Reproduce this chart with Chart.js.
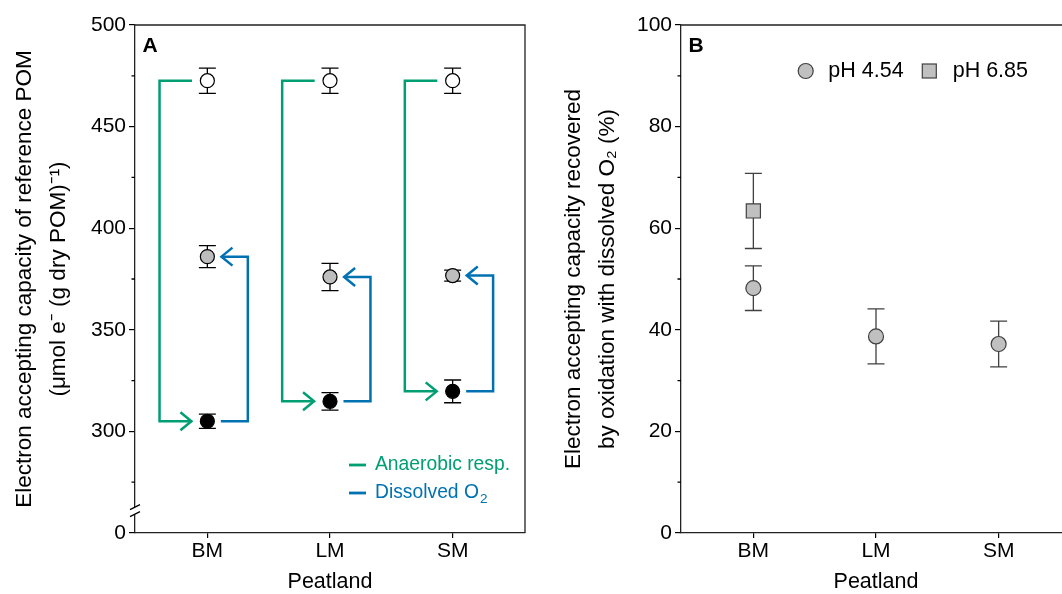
<!DOCTYPE html>
<html lang="en">
<head>
<meta charset="UTF-8">
<title>Electron accepting capacity of reference POM</title>
<script src="https://cdn.jsdelivr.net/npm/chart.js@4"></script>
<style>
  html, body { margin: 0; padding: 0; background: #fff; overflow: hidden; width: 1062px; height: 594px; }
  .panel { position: absolute; top: 0; width: 545px; height: 594px; }
  #panelA { left: 0; }
  #panelB { left: 546px; }
</style>
</head>
<body>
<div class="panel" id="panelA"><canvas id="chartA"></canvas></div>
<div class="panel" id="panelB"><canvas id="chartB"></canvas></div>

<script>
// values
const peatlands = ['BM', 'LM', 'SM'];

// panel A: EAC of reference POM, umol e- (g dry POM)-1
const eacNative = [472.6, 472.6, 472.6];
const eacNativeErr = [6.2, 6.2, 6.2];
const eacReoxidized = [386.0, 376.0, 376.7];
const eacReoxidizedErr = [5.4, 6.7, 2.7];
const eacReduced = [305.0, 314.8, 319.7];
const eacReducedErr = [3.5, 4.3, 5.6];
const yTicksA = [250, 300, 350, 400, 450, 500];
const yTickLabelsA = ['0', '300', '350', '400', '450', '500'];
const yMinorA = [275, 325, 375, 425, 475];

// panel B: EAC recovered by oxidation with dissolved O2 (%)
const recoveredPh454 = [48.2, 38.7, 37.2];
const recoveredPh454Err = [4.4, 5.4, 4.5];
const recoveredPh685 = [63.4, null, null];
const recoveredPh685Err = [7.4, null, null];
const yTicksB = [0, 20, 40, 60, 80, 100];
const yMinorB = [10, 30, 50, 70, 90];

const GREEN = '#009E73';
const BLUE = '#0072B2';
const FONT = '"Liberation Sans", Arial, Helvetica, sans-serif';
const X_MIN = -0.59, X_MAX = 2.59;

Chart.defaults.font.family = FONT;
Chart.defaults.color = '#000';

function toPoints(values) {
    return values.map((v, i) => ({x: i, y: v})).filter(p => p.y !== null);
}
function dropNulls(values) {
    return values.filter(v => v !== null);
}

// bracket paths, from category position and the measured values
function greenBracket(i) {
    return [
        {x: i - 0.125, y: eacNative[i]}, {x: i - 0.39, y: eacNative[i]},
        {x: i - 0.39, y: eacReduced[i]}, {x: i - 0.13, y: eacReduced[i]}
    ];
}
function blueBracket(i) {
    return [
        {x: i + 0.11, y: eacReduced[i]}, {x: i + 0.33, y: eacReduced[i]},
        {x: i + 0.33, y: eacReoxidized[i]}, {x: i + 0.115, y: eacReoxidized[i]}
    ];
}

const errorBars = {
    id: 'errorBars',
    beforeDatasetsDraw(chart) {
        const ctx = chart.ctx;
        const yScale = chart.scales.y;
        chart.data.datasets.forEach((ds, di) => {
            if (!ds.errors) return;
            const meta = chart.getDatasetMeta(di);
            ctx.save();
            ctx.strokeStyle = ds.errorColor;
            ctx.lineWidth = 1.3;
            meta.data.forEach((pt, j) => {
                const e = ds.errors[j];
                const v = ds.data[j].y;
                const x = pt.x;
                const y1 = yScale.getPixelForValue(v + e);
                const y2 = yScale.getPixelForValue(v - e);
                ctx.beginPath();
                ctx.moveTo(x, y1); ctx.lineTo(x, y2);
                ctx.moveTo(x - 8.5, y1); ctx.lineTo(x + 8.5, y1);
                ctx.moveTo(x - 8.5, y2); ctx.lineTo(x + 8.5, y2);
                ctx.stroke();
            });
            ctx.restore();
        });
    },
    afterDatasetsDraw(chart) {
        // arrow heads at the end of the bracket lines
        const ctx = chart.ctx;
        chart.data.datasets.forEach((ds, di) => {
            if (!ds.arrow) return;
            const pts = chart.getDatasetMeta(di).data;
            const tip = pts[pts.length - 1], prev = pts[pts.length - 2];
            const d = Math.sign(tip.x - prev.x);
            ctx.save();
            ctx.strokeStyle = ds.borderColor;
            ctx.lineWidth = 2.5;
            ctx.lineJoin = 'miter';
            ctx.beginPath();
            ctx.moveTo(tip.x - d * 11, tip.y - 9);
            ctx.lineTo(tip.x, tip.y);
            ctx.lineTo(tip.x - d * 11, tip.y + 9);
            ctx.stroke();
            ctx.restore();
        });
    }
};

const decor = {
    id: 'decor',
    afterDraw(chart, args, opts) {
        const ctx = chart.ctx;
        const {left, right, top, bottom} = chart.chartArea;
        const yScale = chart.scales.y;
        ctx.save();
        ctx.strokeStyle = '#222';
        ctx.lineWidth = 1.3;
        // frame
        ctx.beginPath();
        ctx.moveTo(left, top); ctx.lineTo(right, top);
        if (opts.frameRight) { ctx.lineTo(right, bottom); }
        ctx.stroke();
        // minor ticks
        ctx.strokeStyle = '#000';
        ctx.beginPath();
        opts.minor.forEach(v => {
            const y = yScale.getPixelForValue(v);
            ctx.moveTo(left - 3.5, y); ctx.lineTo(left, y);
        });
        ctx.stroke();
        // axis break
        if (opts.breakAt) {
            const yb = yScale.getPixelForValue(opts.breakAt);
            ctx.fillStyle = '#fff';
            ctx.fillRect(left - 2, yb - 3.5, 4, 7);
            ctx.beginPath();
            ctx.moveTo(left - 5, yb - 1); ctx.lineTo(left + 5, yb - 6);
            ctx.moveTo(left - 5, yb + 6); ctx.lineTo(left + 5, yb + 1);
            ctx.stroke();
        }
        // panel letter
        ctx.fillStyle = '#000';
        ctx.font = 'bold 21px ' + FONT;
        ctx.textBaseline = 'alphabetic';
        ctx.textAlign = 'left';
        ctx.fillText(opts.letter, left + 7.5, top + 27);
        // legend
        if (opts.legendA) {
            ctx.textBaseline = 'middle';
            ctx.lineWidth = 2.8;
            const items = [
                {text: 'Anaerobic resp.', sub: '', color: GREEN, y: 465},
                {text: 'Dissolved O', sub: '2', color: BLUE, y: 493}
            ];
            items.forEach(it => {
                ctx.strokeStyle = it.color;
                ctx.fillStyle = it.color;
                ctx.beginPath();
                ctx.moveTo(349, it.y); ctx.lineTo(366, it.y);
                ctx.stroke();
                ctx.font = '19.3px ' + FONT;
                ctx.fillText(it.text, 375, it.y);
                if (it.sub) {
                    const w = ctx.measureText(it.text).width;
                    ctx.font = '13.5px ' + FONT;
                    ctx.fillText(it.sub, 375 + w + 1, it.y + 6);
                }
            });
        }
        if (opts.legendB) {
            const ly = top + 46;
            ctx.strokeStyle = '#404040';
            ctx.fillStyle = '#c0c0c0';
            ctx.lineWidth = 1.2;
            ctx.beginPath();
            ctx.arc(left + 124.7, ly, 7.5, 0, Math.PI * 2);
            ctx.fill(); ctx.stroke();
            ctx.fillRect(left + 241.3, ly - 7, 14, 14);
            ctx.strokeRect(left + 241.3, ly - 7, 14, 14);
            ctx.fillStyle = '#000';
            ctx.font = '21.5px ' + FONT;
            ctx.textBaseline = 'middle';
            ctx.fillText('pH 4.54', left + 147.3, ly);
            ctx.fillText('pH 6.85', left + 271.7, ly);
        }
        ctx.restore();
    }
};

function xScale() {
    return {
        type: 'linear',
        min: X_MIN,
        max: X_MAX,
        afterBuildTicks: s => { s.ticks = peatlands.map((p, i) => ({value: i})); },
        afterFit: s => { s.height = 61; },
        ticks: {
            callback: v => peatlands[v],
            font: {size: 21},
            padding: 1,
            maxRotation: 0
        },
        grid: {drawOnChartArea: false, drawTicks: true, tickLength: 5, color: '#000', lineWidth: 1.2},
        border: {display: true, color: '#222', width: 1.3},
        title: {display: true, text: 'Peatland', font: {size: 21.5, lineHeight: 1.1}, padding: {top: 0, bottom: 0}}
    };
}

function yScale(min, max, ticks, labels, titleText, titlePad) {
    return {
        type: 'linear',
        min: min,
        max: max,
        afterBuildTicks: s => { s.ticks = ticks.map(v => ({value: v})); },
        afterFit: s => { s.width = 135; },
        ticks: {
            callback: v => labels[ticks.indexOf(v)],
            font: {size: 21},
            padding: 3
        },
        grid: {drawOnChartArea: false, drawTicks: true, tickLength: 6, color: '#000', lineWidth: 1.2},
        border: {display: true, color: '#222', width: 1.3},
        title: {display: true, text: titleText, font: {size: 22.5, lineHeight: 1.5}, padding: {top: titlePad, bottom: 0}}
    };
}

const commonOptions = {
    responsive: true,
    maintainAspectRatio: false,
    animation: false,
    layout: {padding: {top: 25, right: 20, left: 0, bottom: 0}}
};

new Chart(document.getElementById('chartA'), {
    type: 'scatter',
    data: {
        datasets: [
            {label: 'Native', data: toPoints(eacNative), errors: eacNativeErr, errorColor: '#000',
             backgroundColor: '#fff', borderColor: '#000', borderWidth: 1.2, pointRadius: 7, order: 0},
            {label: 'Reoxidized', data: toPoints(eacReoxidized), errors: eacReoxidizedErr, errorColor: '#000',
             backgroundColor: '#bdbdbd', borderColor: '#000', borderWidth: 1.2, pointRadius: 7, order: 0},
            {label: 'Reduced', data: toPoints(eacReduced), errors: eacReducedErr, errorColor: '#000',
             backgroundColor: '#000', borderColor: '#000', borderWidth: 1.2, pointRadius: 7, order: 0},
            ...peatlands.map((p, i) => ({label: 'Anaerobic resp.', data: greenBracket(i), showLine: true, arrow: true,
                borderColor: GREEN, borderWidth: 2.5, pointRadius: 0, borderJoinStyle: 'miter', order: 1})),
            ...peatlands.map((p, i) => ({label: 'Dissolved O2', data: blueBracket(i), showLine: true, arrow: true,
                borderColor: BLUE, borderWidth: 2.5, pointRadius: 0, borderJoinStyle: 'miter', order: 1}))
        ]
    },
    options: {
        ...commonOptions,
        scales: {
            x: xScale(),
            y: yScale(250, 500, yTicksA, yTickLabelsA,
                ['Electron accepting capacity of reference POM', '(\u03bcmol e\u207b (g dry POM)\u207b\u00b9)'], 8)
        },
        plugins: {
            legend: {display: false},
            tooltip: {enabled: false},
            decor: {frameRight: true, minor: yMinorA, breakAt: 261, letter: 'A', legendA: true}
        }
    },
    plugins: [errorBars, decor]
});

new Chart(document.getElementById('chartB'), {
    type: 'scatter',
    data: {
        datasets: [
            {label: 'pH 4.54', data: toPoints(recoveredPh454), errors: recoveredPh454Err, errorColor: '#404040',
             backgroundColor: '#c0c0c0', borderColor: '#404040', borderWidth: 1.2, pointRadius: 7.5, pointStyle: 'circle'},
            {label: 'pH 6.85', data: toPoints(recoveredPh685), errors: dropNulls(recoveredPh685Err), errorColor: '#404040',
             backgroundColor: '#c0c0c0', borderColor: '#404040', borderWidth: 1.2, pointRadius: 10, pointStyle: 'rect'}
        ]
    },
    options: {
        ...commonOptions,
        scales: {
            x: xScale(),
            y: yScale(0, 100, yTicksB, yTicksB.map(String),
                ['Electron accepting capacity recovered', 'by oxidation with dissolved O\u2082 (%)'], 11)
        },
        plugins: {
            legend: {display: false},
            tooltip: {enabled: false},
            decor: {frameRight: true, minor: yMinorB, breakAt: null, letter: 'B', legendB: true}
        }
    },
    plugins: [errorBars, decor]
});
</script>
</body>
</html>
